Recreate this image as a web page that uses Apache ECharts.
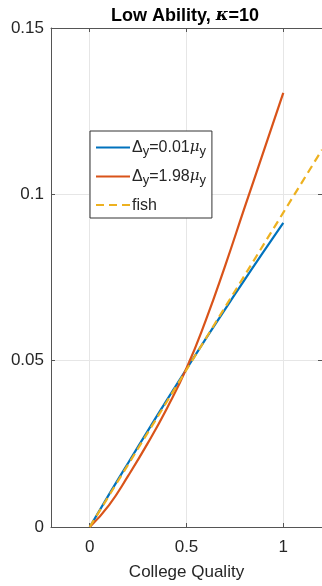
<!DOCTYPE html>
<html>
<head>
<meta charset="utf-8">
<script src="https://cdn.jsdelivr.net/npm/echarts@6/dist/echarts.min.js"></script>
<style>
html,body{margin:0;padding:0;background:#fff;}
#c1{width:322px;height:586px;}
</style>
</head>
<body>
<div id="c1"></div>
<script>
// college quality grid
var qualityX = [0, 0.1, 0.2, 0.3, 0.4, 0.5, 0.6, 0.7, 0.8, 0.9, 1];
// Δy = 0.01 μy
var lowDelta = [0, 0.0098, 0.0194, 0.0289, 0.0383, 0.0475, 0.0566, 0.0655, 0.0743, 0.0829, 0.0914];
// Δy = 1.98 μy
var highDelta = [0, 0.0066, 0.0155, 0.0252, 0.0358, 0.0477, 0.0622, 0.0786, 0.096, 0.1132, 0.1305];
// fish
var fishX = [0, 0.2, 0.4, 0.6, 0.8, 1, 1.2];
var fishY = [0, 0.0189, 0.0378, 0.0567, 0.0756, 0.0945, 0.1134];

var xTicks = [0, 0.5, 1];
var names = ['low', 'high', 'fish'];

var colors = ['#0072BD', '#D95319', '#EDB120'];
var txt = '#262626';
var axisColor = '#555';

function pairs(xs, ys){
    var out = [];
    for(var i=0; i<xs.length; ++i){
        out.push([xs[i], ys[i]]);
    }
    return out;
}

var chart = echarts.init(document.getElementById('c1'));
var font = 'Arial, "Liberation Sans", Helvetica, sans-serif';

var option = {
    animation: false,
    backgroundColor: '#fff',
    title: {
        text: '{b|Low Ability, }{k|κ}{b|=10}',
        left: 106,
        top: 2,
        textStyle: {
            rich: {
                b: {fontFamily: font, fontSize: 18, fontWeight: 'bold', color: '#000'},
                k: {fontFamily: 'DejaVu Serif, serif', fontSize: 17, fontStyle: 'italic', color: '#000'}
            }
        }
    },
    legend: {
        orient: 'vertical',
        left: 90,
        top: 131,
        width: 126,
        padding: [4, 6, 1, 5],
        itemGap: 6,
        itemWidth: 34,
        itemHeight: 14,
        borderColor: '#333',
        borderWidth: 1,
        backgroundColor: '#fff',
        itemStyle: {opacity: 0},
        data: names,
        formatter: function(name){
            if(name === 'low') return '{d|Δ}{s|y}{d|=0.01}{m|μ}{s|y}';
            if(name === 'high') return '{d|Δ}{s|y}{d|=1.98}{m|μ}{s|y}';
            return '{f|fish}';
        },
        textStyle: {
            padding: [0, 0, 0, -3],
            rich: {
                d: {fontFamily: font, fontSize: 16, color: txt, lineHeight: 21, verticalAlign: 'middle'},
                f: {fontFamily: font, fontSize: 16, color: txt, lineHeight: 22, padding: [5, 0, 3, 0], verticalAlign: 'middle'},
                m: {fontFamily: 'DejaVu Serif, serif', fontStyle: 'italic', fontSize: 15, color: txt, lineHeight: 21, verticalAlign: 'middle'},
                s: {fontFamily: font, fontSize: 13, color: txt, lineHeight: 16, padding: [10, 0, 0, 0], verticalAlign: 'bottom'}
            }
        }
    },
    grid: {
        left: 51,
        right: 0,
        top: 28,
        bottom: 56,
        containLabel: false,
        show: false
    },
    xAxis: [{
        type: 'value',
        min: -0.2,
        max: 1.2,
        name: 'College Quality',
        nameLocation: 'middle',
        nameGap: 37,
        nameTextStyle: {fontFamily: font, fontSize: 17, color: txt},
        axisLine: {show: true, onZero: false, lineStyle: {color: axisColor, width: 1}},
        axisTick: {show: true, inside: true, length: 4, customValues: xTicks, lineStyle: {color: axisColor}},
        axisLabel: {customValues: xTicks, margin: 12, fontFamily: font, fontSize: 17, color: txt,
            formatter: function(v){ return String(parseFloat(v.toFixed(3))); }},
        splitLine: {show: true, customValues: xTicks, lineStyle: {color: '#e6e6e6', width: 1}}
    }, {
        type: 'value',
        position: 'top',
        min: -0.2,
        max: 1.2,
        axisLine: {show: true, onZero: false, lineStyle: {color: axisColor, width: 1}},
        axisTick: {show: true, inside: true, length: 4, customValues: xTicks, lineStyle: {color: axisColor}},
        axisLabel: {show: false, customValues: xTicks},
        splitLine: {show: false}
    }],
    yAxis: [{
        type: 'value',
        min: 0,
        max: 0.15,
        interval: 0.05,
        axisLine: {show: true, onZero: false, lineStyle: {color: axisColor, width: 1}},
        axisTick: {show: true, inside: true, length: 4, lineStyle: {color: axisColor}},
        axisLabel: {margin: 7, fontFamily: font, fontSize: 17, color: txt,
            formatter: function(v){ return String(parseFloat(v.toFixed(4))); }},
        splitLine: {show: true, lineStyle: {color: '#e6e6e6', width: 1}}
    }, {
        type: 'value',
        position: 'right',
        min: 0,
        max: 0.15,
        interval: 0.05,
        axisLine: {show: true, onZero: false, lineStyle: {color: axisColor, width: 1}},
        axisTick: {show: true, inside: true, length: 4, lineStyle: {color: axisColor}},
        axisLabel: {show: false},
        splitLine: {show: false}
    }],
    series: [{
        name: 'low',
        type: 'line',
        data: pairs(qualityX, lowDelta),
        showSymbol: false,
        symbol: 'none',
        smooth: 0.5,
        color: colors[0],
        lineStyle: {width: 2.2, color: colors[0]}
    }, {
        name: 'high',
        type: 'line',
        data: pairs(qualityX, highDelta),
        showSymbol: false,
        symbol: 'none',
        smooth: 0.5,
        color: colors[1],
        lineStyle: {width: 2.2, color: colors[1]}
    }, {
        name: 'fish',
        type: 'line',
        data: pairs(fishX, fishY),
        showSymbol: false,
        symbol: 'none',
        color: colors[2],
        lineStyle: {width: 2.2, color: colors[2], type: [8, 5]}
    }]
};
chart.setOption(option);
</script>
</body>
</html>
